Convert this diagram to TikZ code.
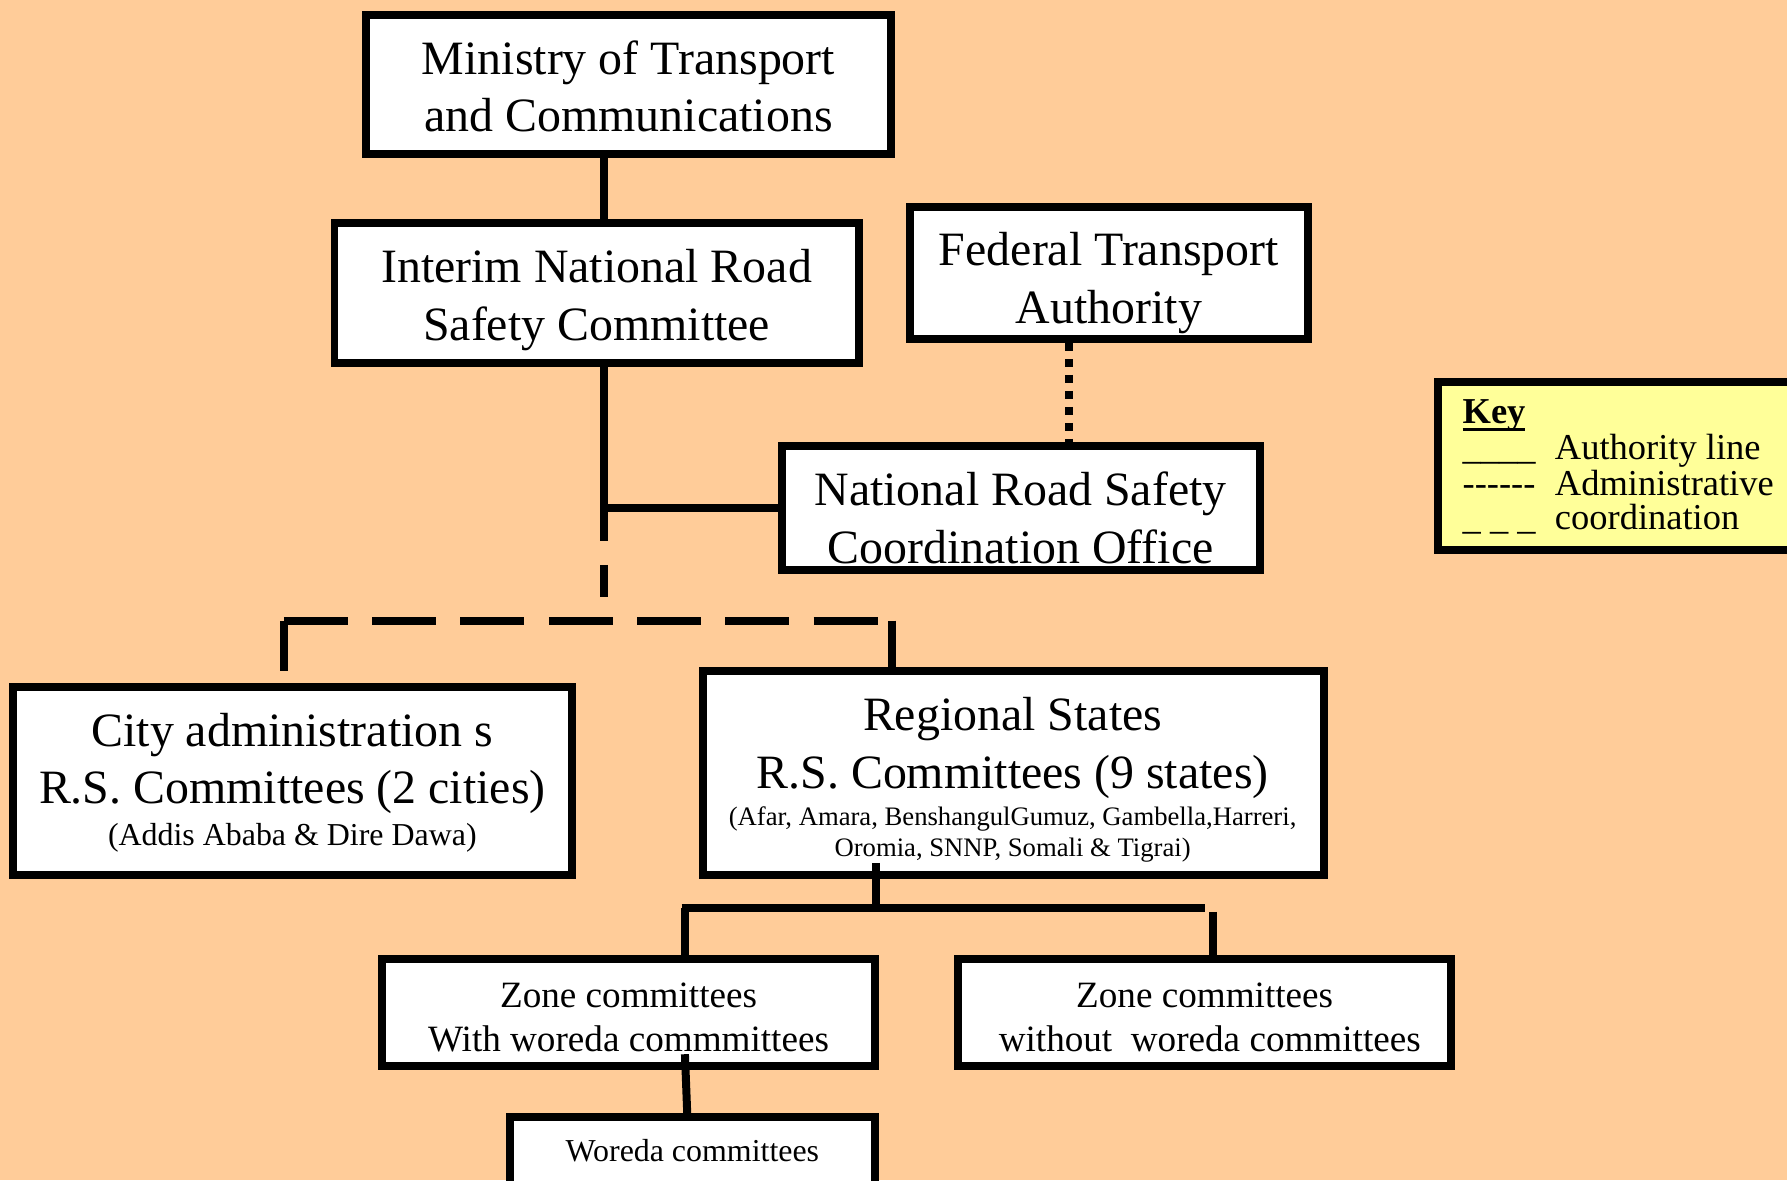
\documentclass[tikz,border=0pt]{standalone}
\usepackage{fontspec}
\setmainfont{Liberation Serif}
\usetikzlibrary{calc}
\definecolor{peach}{HTML}{FFCC99}
\definecolor{keyyellow}{HTML}{FFFF99}
\newcommand\fmain{\fontsize{21}{25}\selectfont}
\newcommand\fcity{\fontsize{14}{17}\selectfont}
\newcommand\freg{\fontsize{11.7}{14}\selectfont}
\newcommand\fzone{\fontsize{16.3}{19.5}\selectfont}
\newcommand\fwor{\fontsize{14}{17}\selectfont}
\newcommand\fkey{\fontsize{16}{15.5}\selectfont}
\newcommand\keyul{\setbox0\hbox{\textbf{Key}}\rlap{\rule[-3.35pt]{\wd0}{1.2pt}}\box0}
\begin{document}
\begin{tikzpicture}[x=0.5pt,y=-0.5pt,
  box/.style={draw,line width=3.5pt,fill=white,inner sep=0pt},
  conn/.style={line width=3.5pt},
  txt/.style={anchor=base,inner sep=0pt,yshift=-0.8pt},
  keytxt/.style={anchor=base west,inner sep=0pt,font=\fkey,yshift=-0.8pt}]
\fill[peach] (0,0) rectangle (1568,1035.4);
\useasboundingbox (0,0) rectangle (1568,1035.4);

% boxes
\node[box,minimum width=230pt,minimum height=61pt] (min) at (551.5,74.5) {};
\node[box,minimum width=230pt,minimum height=61.5pt] (int) at (523.5,257) {};
\node[box,minimum width=174.5pt,minimum height=58pt] (fed) at (973,239.5) {};
\node[box,minimum width=209.5pt,minimum height=54.5pt] (nrsco) at (896,446) {};
\node[box,minimum width=245pt,minimum height=82.5pt] (city) at (256.5,685) {};
\node[box,minimum width=272.5pt,minimum height=89.5pt] (reg) at (889,678) {};
\node[box,minimum width=216pt,minimum height=47pt] (z1) at (551.5,888.5) {};
\node[box,minimum width=216.5pt,minimum height=47pt] (z2) at (1057,888.5) {};
\node[box,minimum width=160pt,minimum height=29.5pt] (wor) at (607.5,1010) {};
\node[box,fill=keyyellow,minimum width=162.5pt,minimum height=73.5pt] (key) at (1424,409) {};

% texts
\node[txt,font=\fmain] (tmin1) at (551.5,64) {Ministry of Transport};
\node[txt,font=\fmain] (tmin2) at (551.5,114) {and Communications};
\node[txt,font=\fmain] (tint1) at (523.5,246.5) {Interim National Road};
\node[txt,font=\fmain] (tint2) at (523.5,297) {Safety Committee};
\node[txt,font=\fmain] (tfed1) at (973,231) {Federal Transport};
\node[txt,font=\fmain] (tfed2) at (973,282) {Authority};
\node[txt,font=\fmain] (tnr1) at (895.5,442) {National Road Safety};
\node[txt,font=\fmain] (tnr2) at (895.5,493) {Coordination Office};
\node[txt,font=\fmain] (tcity1) at (256.5,653) {City administration s};
\node[txt,font=\fmain] (tcity2) at (256.5,703.5) {R.S. Committees (2 cities)};
\node[txt,font=\fcity] (tcity3) at (256.5,740.4) {(Addis Ababa \& Dire Dawa)};
\node[txt,font=\fmain] (treg1) at (888.5,639) {Regional States};
\node[txt,font=\fmain] (treg2) at (888.5,690) {R.S. Committees (9 states)};
\node[txt,font=\freg] (treg3) at (888.5,722.3) {(Afar, Amara, BenshangulGumuz, Gambella,Harreri,};
\node[txt,font=\freg] (treg4) at (888.5,749.8) {Oromia, SNNP, Somali \& Tigrai)};
\node[txt,font=\fzone] (tz11) at (551.5,882.4) {Zone committees};
\node[txt,font=\fzone] (tz12) at (551.5,921) {With woreda commmittees};
\node[txt,font=\fzone] (tz21) at (1057,882.4) {Zone committees};
\node[txt,font=\fzone] (tz22) at (1061.5,921) {without\ \ woreda committees};
\node[txt,font=\fwor] (twor) at (607.5,1017.4) {Woreda committees};

% key
\node[keytxt] (kt) at (1283,370) {\keyul};
\node[keytxt] (ks1) at (1283,402) {\_\_\_\_};
\node[keytxt] (ks2) at (1283,433.3) {\mbox{-}\mbox{-}\mbox{-}\mbox{-}\mbox{-}\mbox{-}};
\node[keytxt] (ks3) at (1283,463.4) {\_ \_ \_};
\node[keytxt] (kl1) at (1364,402) {Authority line};
\node[keytxt] (kl2) at (1364,433.3) {Administrative};
\node[keytxt] (kl3) at (1364,463.4) {coordination};

% junction coordinates
\coordinate (xa) at (530,0);
\coordinate (j1) at (530,446);
\coordinate (j2) at (530,523.6);
\coordinate (dl) at (249,544.5);
\coordinate (dr) at (770,544.5);
\coordinate (vr) at (783,544.5);
\coordinate (xf) at (938,0);
\coordinate (r1) at (769,797);
\coordinate (hl) at (598,797);
\coordinate (hr) at (1057,797);
\coordinate (zl) at (601,797);
\coordinate (zr) at (1064,800);
\coordinate (xw) at (603,0);

% connectors
\draw[conn] (min.south -| xa) -- (int.north -| xa);
\draw[conn] (int.south -| xa) |- (nrsco.west);
\draw[conn,dash pattern=on 14.3pt off 10.5pt] (j1) -- (j2);
\draw[conn,dash pattern=on 28pt off 10.75pt] (dl) -- (dr);
\draw[conn,shorten >=5pt] (dl) -- (city.north -| dl);
\draw[conn] (vr) -- (reg.north -| vr);
\draw[conn,dash pattern=on 3.5pt off 3.5pt] (fed.south -| xf) -- (nrsco.north -| xf);
\draw[conn] ($(reg.south -| r1)+(0,-14)$) -- (r1);
\draw[conn] (hl) -- (hr);
\draw[conn] (zl) -- (z1.north -| zl);
\draw[conn] (zr) -- (z2.north -| zr);
\draw[conn] ($(z1.south -| zl)+(0,-14)$) -- (wor.north -| xw);
\end{tikzpicture}
\end{document}
